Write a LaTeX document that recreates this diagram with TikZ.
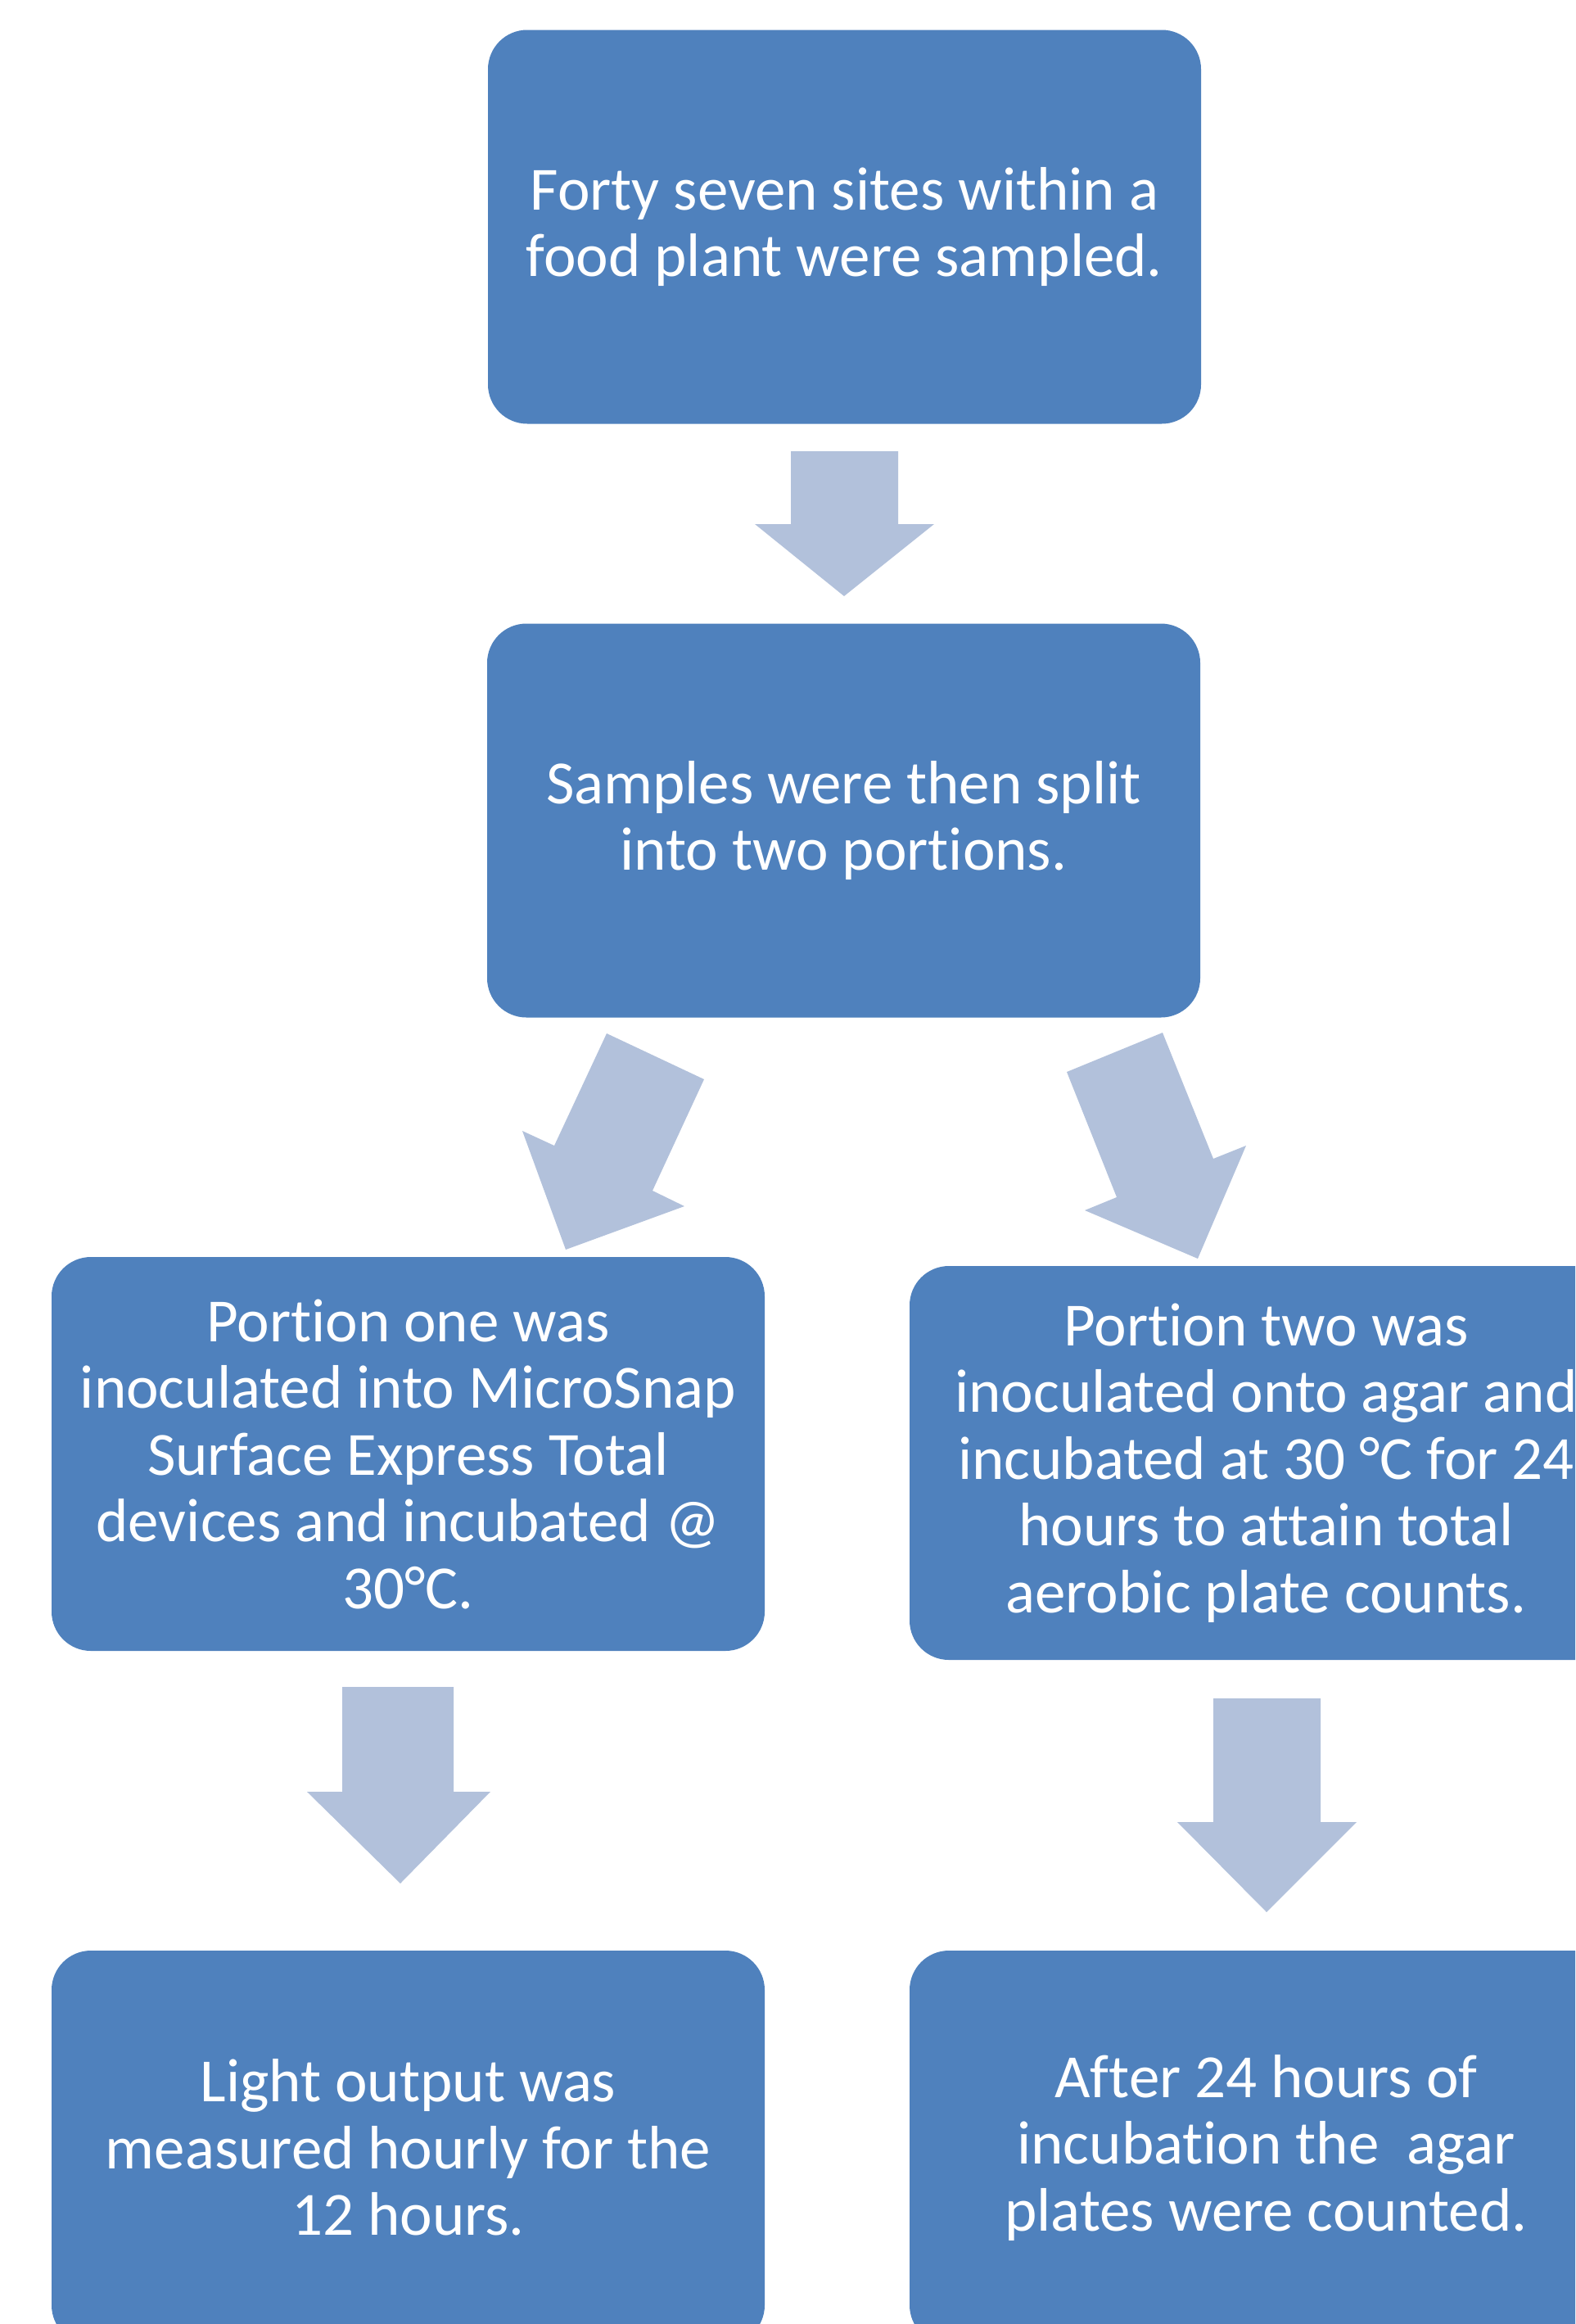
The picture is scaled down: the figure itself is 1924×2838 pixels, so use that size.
\documentclass[tikz,border=0pt]{standalone}
\usepackage{fontspec}
\setmainfont{Carlito}
\newfontfamily\boxfont[Ligatures=NoCommon]{Carlito}
\definecolor{boxblue}{HTML}{4F81BD}
\definecolor{arrowblue}{HTML}{B2C1DB}
\begin{document}
\begin{tikzpicture}[x=0.5pt,y=-0.5pt,
  stepbox/.style={fill=boxblue, draw=none, rounded corners=24pt,
    minimum width=435.5pt, minimum height=240.5pt, text=white,
    align=center, inner sep=0pt, font=\boxfont\fontsize{37.5}{40.75}\selectfont},
  blockarrow/.style={fill=arrowblue, draw=none}]
\useasboundingbox (0,0) rectangle (1924,2838);
\clip (0,0) rectangle (1924,2838);
\node[stepbox] (b1) at (1031.5,277) {Forty seven sites within a\\food plant were sampled.};
\node[stepbox] (b2) at (1030.5,1002) {Samples were then split\\into two portions.};
\node[stepbox] (b3) at (498.5,1775.5) {Portion one was\\inoculated into MicroSnap\\Surface Express Total\\devices and incubated @\\30°C.};
\node[stepbox] (b4) at (1546.5,1786.5) {Portion two was\\inoculated onto agar and\\incubated at 30 °C for 24\\hours to attain total\\aerobic plate counts.};
\node[stepbox] (b5) at (498.5,2622.5) {Light output was\\measured hourly for the\\12 hours.};
\node[stepbox] (b6) at (1546.5,2622.5) {After 24 hours of\\incubation the\ \ agar\\plates were counted.};
% arrow b1 -> b2
\fill[blockarrow] (966,551) -- (1097,551) -- (1097,640) -- (1141,640) -- (1031,728) -- (922,640) -- (966,640) -- cycle;
% arrow b2 -> b3
\fill[blockarrow] (741,1262) -- (860,1318) -- (797,1454) -- (836,1473) -- (691,1526) -- (638,1381) -- (677,1399) -- cycle;
% arrow b2 -> b4
\fill[blockarrow] (1420,1261) -- (1482,1415) -- (1522,1399) -- (1463,1537) -- (1325,1478) -- (1364,1462) -- (1303,1309) -- cycle;
% arrow b3 -> b5
\fill[blockarrow] (418,2060) -- (554,2060) -- (554,2188) -- (599,2188) -- (489,2300) -- (375,2188) -- (418,2188) -- cycle;
% arrow b4 -> b6
\fill[blockarrow] (1482,2074) -- (1613,2074) -- (1613,2225) -- (1657,2225) -- (1547,2335) -- (1438,2225) -- (1482,2225) -- cycle;
\end{tikzpicture}
\end{document}
